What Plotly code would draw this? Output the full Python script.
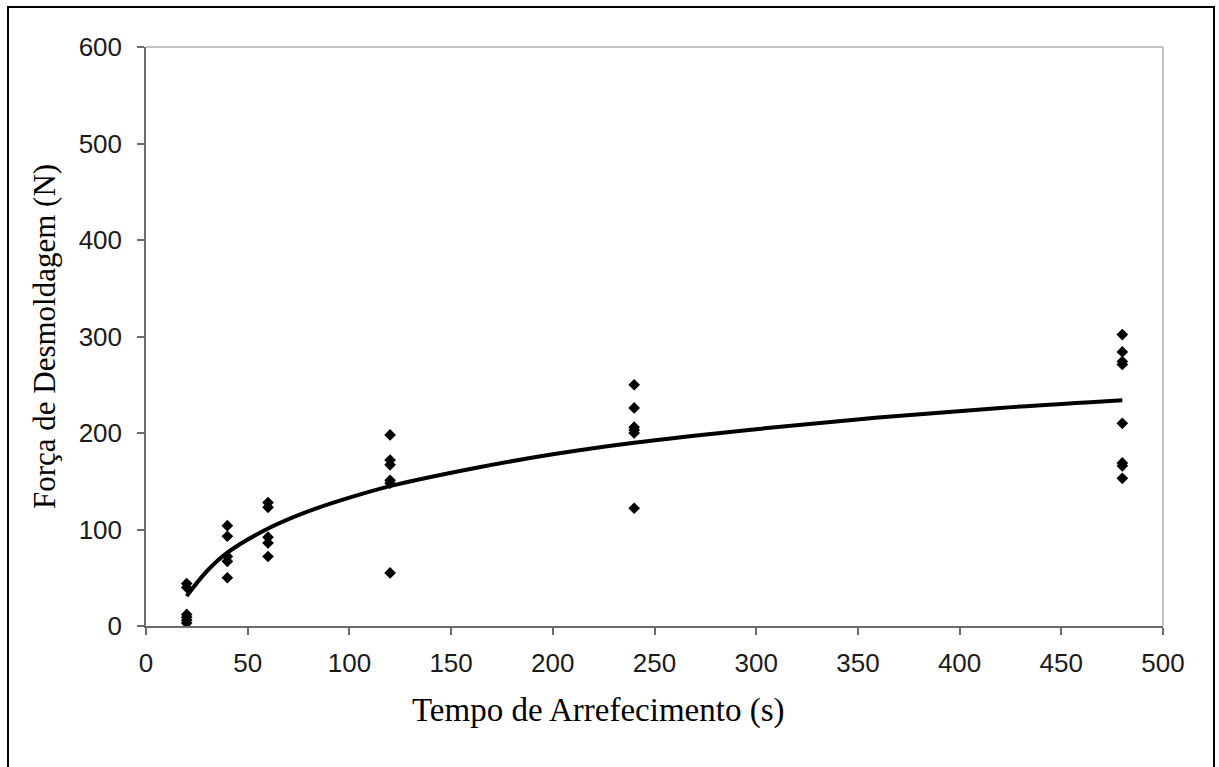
import plotly.graph_objects as go

# Measured points (cooling time s, demoulding force N)
time_20 = [20, 20, 20, 20, 20, 20]
force_20 = [44, 40, 3, 6, 9, 12]
time_40 = [40, 40, 40, 40, 40]
force_40 = [104, 93, 72, 67, 50]
time_60 = [60, 60, 60, 60, 60]
force_60 = [128, 123, 92, 86, 72]
time_120 = [120, 120, 120, 120, 120, 120]
force_120 = [198, 172, 167, 151, 148, 55]
time_240 = [240, 240, 240, 240, 240, 240]
force_240 = [250, 226, 206, 203, 200, 122]
time_480 = [480, 480, 480, 480, 480, 480, 480, 480]
force_480 = [302, 284, 274, 271, 210, 169, 166, 153]

# Trend curve
curve_x = [20, 30, 40, 60, 80, 100, 120, 160, 200, 240, 300, 360, 420, 480]
curve_y = [31, 57, 76, 101, 119, 133, 145, 163, 178, 190, 204, 216, 226, 234]

x_ticks = [0, 50, 100, 150, 200, 250, 300, 350, 400, 450, 500]
y_ticks = [0, 100, 200, 300, 400, 500, 600]

xs = time_20 + time_40 + time_60 + time_120 + time_240 + time_480
ys = force_20 + force_40 + force_60 + force_120 + force_240 + force_480

fig = go.Figure()
fig.add_trace(go.Scatter(x=xs, y=ys, mode="markers",
                         marker=dict(symbol="diamond", size=9, color="black"),
                         showlegend=False))
fig.add_trace(go.Scatter(x=curve_x, y=curve_y, mode="lines",
                         line=dict(color="black", width=4, shape="spline"),
                         showlegend=False))

axis_common = dict(showgrid=False, zeroline=False, showline=True,
                   linecolor="#6b6b6b", linewidth=1.5, ticks="outside",
                   ticklen=7, tickcolor="#6b6b6b", tickwidth=1.5,
                   tickfont=dict(family="Liberation Sans, Arial", size=26, color="#1a1a1a"))

serif = "Liberation Serif, Times New Roman"

fig.update_layout(
    width=1219, height=767,
    margin=dict(l=146, r=56, t=47, b=141),
    paper_bgcolor="white", plot_bgcolor="white",
    xaxis=dict(range=[0, 500], tickvals=x_ticks, ticklabelstandoff=6, **axis_common),
    yaxis=dict(range=[0, 600], tickvals=y_ticks, ticklabelstandoff=10,
               title=dict(text="Força de Desmoldagem (N)", standoff=14,
                          font=dict(family=serif, size=31, color="black")),
               **axis_common),
    annotations=[
        dict(text="Tempo de Arrefecimento (s)", xref="paper", yref="paper",
             x=(598 - 146) / 1017, y=(626 - 710) / 579, xanchor="center", yanchor="middle",
             showarrow=False, font=dict(family=serif, size=33, color="black")),
    ],
    shapes=[
        dict(type="line", xref="paper", yref="paper", x0=0, x1=1, y0=1, y1=1,
             line=dict(color="#b0b0b0", width=1.5)),
        dict(type="line", xref="paper", yref="paper", x0=1, x1=1, y0=0, y1=1,
             line=dict(color="#b0b0b0", width=1.5)),
        dict(type="rect", xref="paper", yref="paper",
             x0=(8 - 146) / 1017, x1=(1214 - 146) / 1017,
             y0=(626 - 780) / 579, y1=(626 - 7) / 579,
             line=dict(color="black", width=2), fillcolor="rgba(0,0,0,0)"),
    ],
)

fig.write_html("out.html", config={"displayModeBar": False},
               post_script="document.body.style.margin='0';")
